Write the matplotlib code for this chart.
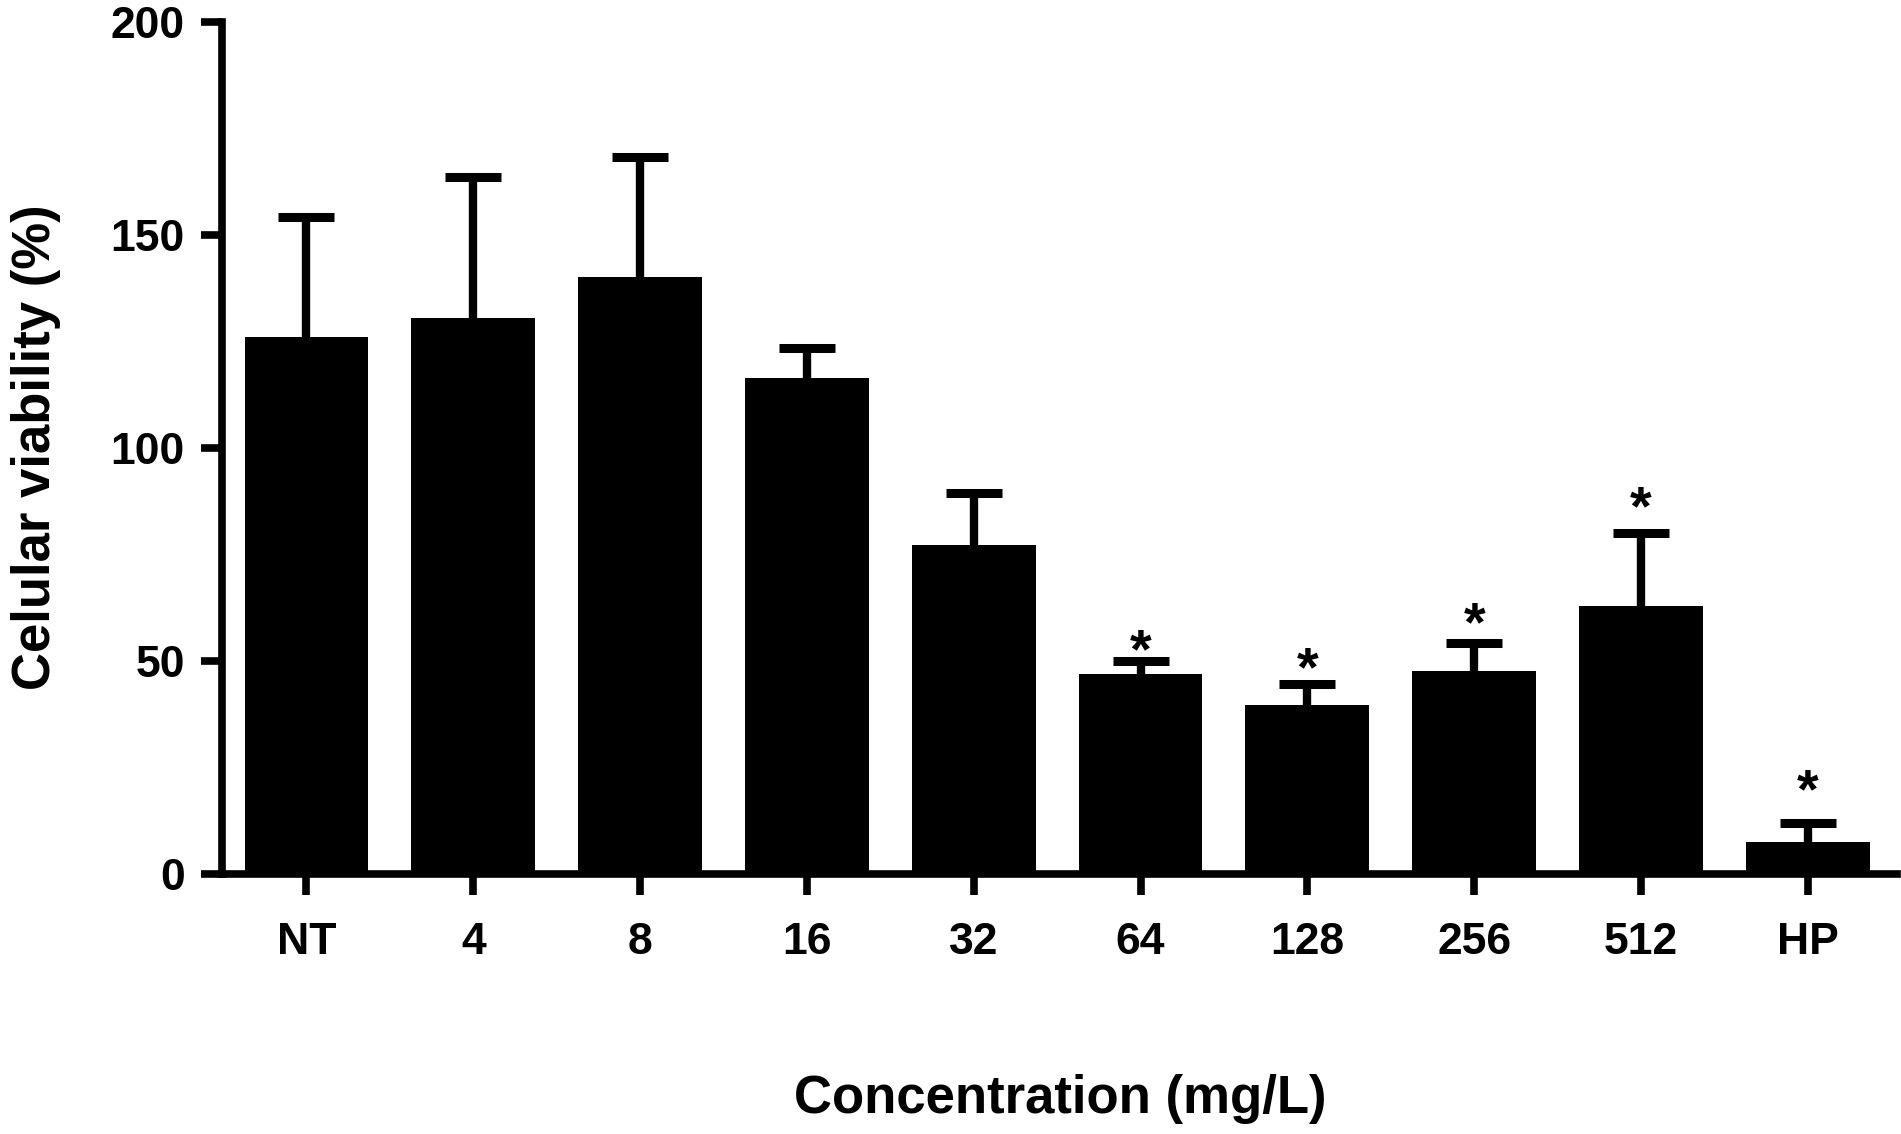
import numpy as np
import matplotlib.pyplot as plt

plt.rcParams['font.family'] = ['Liberation Sans', 'DejaVu Sans']
plt.rcParams['font.weight'] = 'bold'

# data
groups = ['NT', '4', '8', '16', '32', '64', '128', '256', '512', 'HP']
viability = [125.9, 130.4, 140.1, 116.3, 77.1, 46.8, 39.5, 47.5, 62.8, 7.5]
sd_upper = [28.2, 33.1, 28.2, 7.1, 12.3, 3.1, 5.0, 6.6, 17.2, 4.3]
signif = [False, False, False, False, False, True, True, True, True, True]
star_gap = [0, 0, 0, 0, 0, 4.7, 5.9, 6.8, 8.0, 9.9]

fig = plt.figure(figsize=(19.01, 11.34), dpi=100)
ax = fig.add_axes([0.117, 0.2296, 0.881, 0.7514])

x = np.arange(len(groups))
ax.bar(x, viability, width=0.742, color='black', zorder=2)
_, caps, _ = ax.errorbar(x, viability, yerr=[np.zeros(len(x)), sd_upper], fmt='none',
                         ecolor='black', elinewidth=6, capsize=20, capthick=6.5, zorder=1)
caps[0].set_visible(False)  # no cap at the bar top

# significance stars (glyph centre sits ~6 units above its baseline at this size)
for xi, v, e, s, g in zip(x, viability, sd_upper, signif, star_gap):
    if s:
        ax.text(xi, v + e + g - 6.1, '*', ha='center', va='baseline', fontsize=40, fontweight='bold')

ax.set_xlim(-0.504, 9.536)
ax.set_ylim(0, 200)
ax.set_yticks([0, 50, 100, 150, 200])
ax.set_xticks(x)
ax.set_xticklabels(groups)

for side in ['top', 'right']:
    ax.spines[side].set_visible(False)
for side in ['left', 'bottom']:
    ax.spines[side].set_linewidth(5.5)

ax.tick_params(axis='both', length=15, width=5.5, labelsize=32, pad=12)
ax.tick_params(axis='x', pad=20)

ax.set_ylabel('Celular viability (%)', fontsize=38, fontweight='bold', labelpad=36)
ax.set_xlabel('Concentration (mg/L)', fontsize=38, fontweight='bold', labelpad=80)

fig.savefig('out.png', dpi=100)
